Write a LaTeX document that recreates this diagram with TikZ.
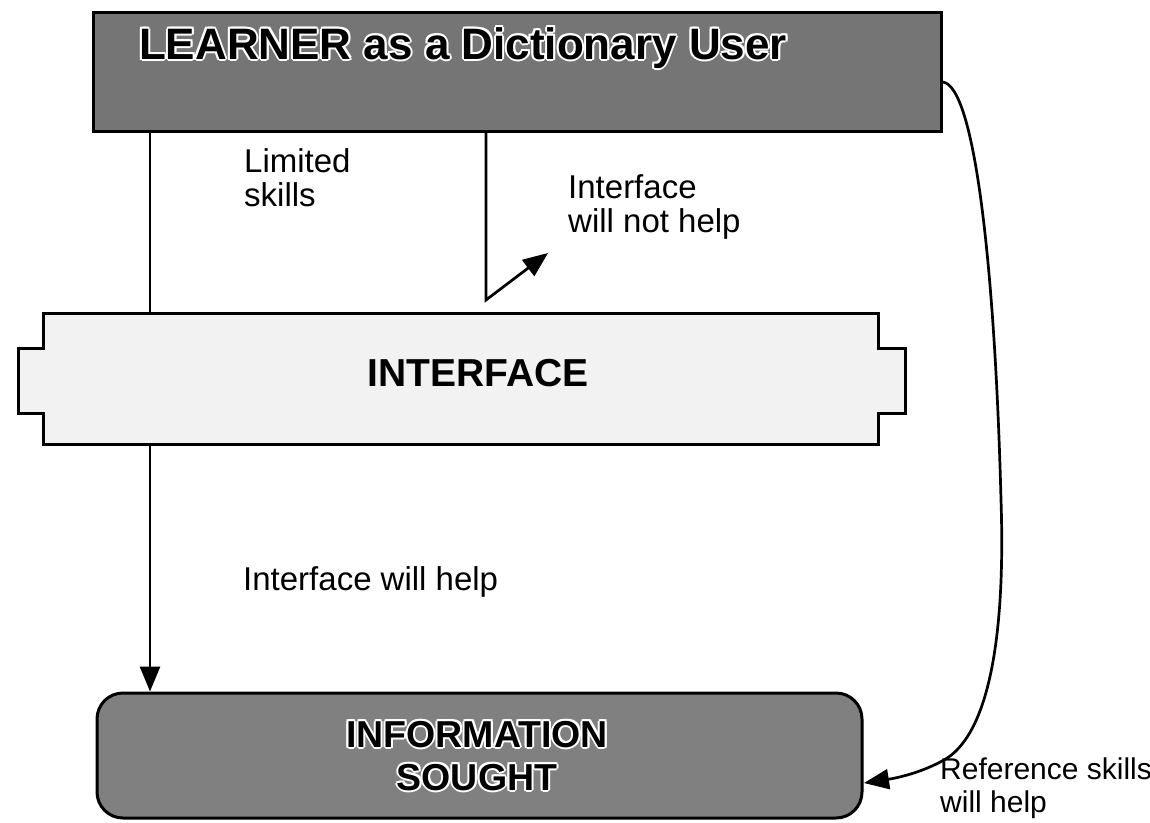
\documentclass[tikz,border=0pt]{standalone}
\usepackage{fontspec}
\setmainfont{Liberation Sans}
\usetikzlibrary{arrows.meta}

% bold text with a white outline, built from offset white copies
\newcommand\halotext[1]{{%
  \def\hc##1##2{\rlap{\kern##1\raisebox{##2}{\color{white}#1}}}%
  \hc{2pt}{0pt}\hc{-2pt}{0pt}\hc{0pt}{2pt}\hc{0pt}{-2pt}%
  \hc{1.45pt}{1.45pt}\hc{-1.45pt}{1.45pt}\hc{1.45pt}{-1.45pt}\hc{-1.45pt}{-1.45pt}%
  #1}}

\tikzset{
  titlebox/.style={draw=black, line width=3pt, fill=black!54, inner sep=0pt},
  infobox/.style={draw=black, line width=3pt, fill=black!50, rounded corners=26pt, inner sep=0pt},
  gatebox/.style={draw=black, line width=3pt, fill=black!5},
  headtext/.style={font=\fontsize{44}{46}\selectfont\bfseries, inner sep=0pt, anchor=base},
  infotext/.style={font=\fontsize{37.5}{40}\selectfont\bfseries, inner sep=0pt, anchor=base},
  gatetext/.style={font=\fontsize{39}{42}\selectfont\bfseries, inner sep=0pt, anchor=base},
  note/.style={font=\fontsize{33}{34}\selectfont, align=left, inner sep=0pt, anchor=base west},
  sidenote/.style={note, font=\fontsize{30}{33}\selectfont},
  link/.style={draw=black, line width=2.7pt},
  arrowlink/.style={link, -{Triangle[length=25pt, width=20pt]}},
}

\begin{document}
\begin{tikzpicture}[x=1pt, y=-1pt]
\useasboundingbox (0,0) rectangle (1150,822);

% the learner at the top and the goal at the bottom
\node[titlebox, minimum width=848pt, minimum height=119pt] (learner) at (517,72) {};
\node[headtext] (learnerlabel) at (463,59) {\halotext{LEARNER as a Dictionary User}};

\node[infobox, minimum width=765pt, minimum height=125pt] (info) at (479.5,755.5) {};
\node[infotext] (infolabel) at (477,747) {\halotext{INFORMATION}};
\node[infotext] (infolabel2) at (477,790) {\halotext{SOUGHT}};

% routing points of the connectors
\coordinate (laneA) at (150,0);
\coordinate (laneB) at (486,0);
\coordinate (bendB) at (486,300);
\coordinate (tipB) at (548,253);
\coordinate (arcStart) at (0,82);
\coordinate (arcMid) at (1001,500);
\coordinate (arcTurn) at (944,760);
\coordinate (arcEnd) at (864,783);

% straight path through the interface
\draw[arrowlink] (learner.south -| laneA) -- (info.north -| laneA);

% the interface bar with its side tabs
\draw[gatebox] (43,313) -- (878,313) -- (878,348) -- (905,348) -- (905,413) -- (878,413)
  -- (878,444) -- (43,444) -- (43,413) -- (18,413) -- (18,348) -- (43,348) -- cycle;
\node[gatetext] (interface) at (478,386) {INTERFACE};

% deflected path
\draw[arrowlink] (learner.south -| laneB) -- (bendB) -- (tipB);

% reference skills route
\draw[arrowlink] (learner.east |- arcStart) .. controls (975,85) and (995,270) .. (arcMid)
  .. controls (1006,650) and (985,737) .. (arcTurn)
  .. controls (917,775) and (890,779) .. (arcEnd);

% labels
\node[note] (limited) at (244,206) {Limited\\skills};
\node[note] (nothelp) at (568,232) {Interface\\will not help};
\node[note] (willhelp) at (243,590) {Interface will help};
\node[sidenote] (refhelp) at (940,812) {Reference skills\\will help};
\end{tikzpicture}
\end{document}
